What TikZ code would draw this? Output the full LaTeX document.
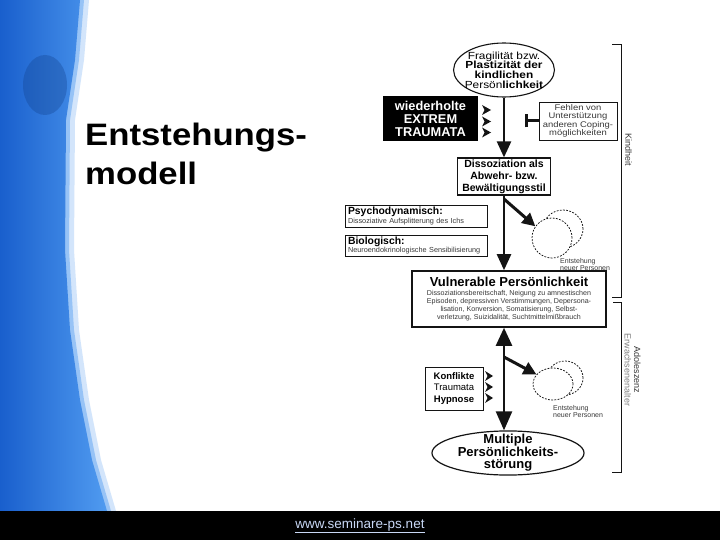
\documentclass[tikz,border=0pt]{standalone}
\usepackage{fontspec}
\setmainfont{Liberation Sans}
\newfontfamily\wide[FakeStretch=1.15]{Liberation Sans}
\newfontfamily\titlefont[FakeStretch=1.12]{Liberation Sans}
\usetikzlibrary{shapes.geometric,arrows.meta}
\definecolor{ink}{gray}{0.08}
\definecolor{soft}{gray}{0.22}
\definecolor{linkblue}{RGB}{200,215,245}
\definecolor{stripA}{RGB}{25,95,205}
\definecolor{stripB}{RGB}{80,155,240}
\newcommand\fs[2]{\fontsize{#1}{#2}\selectfont}
\tikzset{
  bigarrow/.style={draw=ink, line width=2.4pt, -{Triangle[length=16pt,width=14pt]}},
  dblarrow/.style={draw=ink, line width=2.4pt, {Triangle[length=18pt,width=16pt]}-{Triangle[length=19pt,width=16pt]}},
  diagarrow/.style={draw=ink, line width=3pt, -{Triangle[length=13pt,width=13pt]}},
  barline/.style={draw=ink, line width=3pt, -{Bar[width=13pt]}},
  plainbox/.style={draw=ink, rectangle, inner sep=0pt, align=center},
  sidebox/.style={draw=ink, line width=0.9pt, rectangle, inner xsep=3pt, inner ysep=0pt,
                  minimum width=142pt, text width=136pt, align=left, font=\fs{7.3}{8.5}, text=soft},
  dashell/.style={ellipse, draw=ink, dash pattern=on 1.8pt off 1.4pt, line width=0.75pt, inner sep=0pt},
  smalltxt/.style={anchor=north west, align=left, inner sep=0pt, font=\fs{7}{7.5}, text=soft},
  bracket/.style={draw=ink, line width=1pt},
  wedge/.style={fill=ink}
}
\begin{document}
\begin{tikzpicture}[x=1pt,y=-1pt]
\useasboundingbox (0,0) rectangle (720,540);
\fill[white] (0,0) rectangle (720,540);

% blue strip on the left
\fill[stripB, opacity=0.25, xshift=9pt] (0,0) -- (80,0) -- (75,60) -- (66,120) -- (65,250) -- (70,330) -- (80,400) -- (92,460) -- (107,511) -- (0,511) -- cycle;
\fill[stripB, opacity=0.45, xshift=4pt] (0,0) -- (80,0) -- (75,60) -- (66,120) -- (65,250) -- (70,330) -- (80,400) -- (92,460) -- (107,511) -- (0,511) -- cycle;
\path[left color=stripA, right color=stripB] (0,0) -- (80,0) -- (75,60) -- (66,120) -- (65,250) -- (70,330) -- (80,400) -- (92,460) -- (107,511) -- (0,511) -- cycle;
\fill[stripA!70!black, opacity=0.35] (45,85) ellipse (22pt and 30pt);

% footer
\fill[black] (0,511) rectangle (720,540);
\node[text=linkblue, font=\fs{13.5}{14}, inner sep=0pt] (url) at (360,526) {\underline{www.seminare-ps.net}};

% title
\node[anchor=base west, inner sep=0pt, font=\titlefont\bfseries\fs{31}{39}] (t1) at (85,146) {Entstehungs-};
\node[anchor=base west, inner sep=0pt, font=\titlefont\bfseries\fs{31}{39}] (t2) at (85,185) {modell};

% top ellipse
\node[ellipse, draw=ink, line width=1.1pt, minimum width=100pt, minimum height=54pt,
      inner xsep=-3.5pt, inner ysep=0pt, align=center, font=\wide\fs{10.3}{9.7}] (frag) at (504,70)
  {Fragilität bzw.\\\textbf{Plastizität der}\\\textbf{kindlichen}\\Persön\textbf{lichkeit}};

% black box
\node[fill=black, rectangle, inner sep=0pt, minimum width=95pt, minimum height=45pt, align=center,
      text=white, font=\bfseries\fs{12.8}{13}] (trauma) at (430.5,118.5) {wiederholte\\EXTREM\\TRAUMATA};
\foreach \yy in {110,121.5,132.5}
  \fill[wedge] (482,\yy-5) -- (491,\yy) -- (482,\yy+5) -- (484.5,\yy) -- cycle;

% Fehlen box
\node[plainbox, line width=0.7pt, minimum width=78pt, minimum height=38pt, font=\wide\fs{8.2}{8.4}, text=soft] (fehlen) at (578,121)
  {Fehlen von\\Unterstützung\\anderen Coping-\\möglichkeiten};
\coordinate (tbar) at (525,121);
\draw[barline] (fehlen.west) -- (tbar);

% Dissoziation box
\node[plainbox, line width=1.2pt, minimum width=93pt, minimum height=37pt, font=\bfseries\fs{10.5}{12}] (diss) at (504,176.5)
  {Dissoziation als\\Abwehr- bzw.\\Bewältigungsstil};
\draw[bigarrow] (frag.south) -- (diss.north);

% side boxes
\node[sidebox, minimum height=22pt] (psy) at (416,216)
  {{\color{black}\bfseries\fs{10.4}{9}Psychodynamisch:}\\Dissoziative Aufsplitterung des Ichs};
\node[sidebox, minimum height=21pt] (bio) at (416,245.5)
  {{\color{black}\bfseries\fs{10.4}{9}Biologisch:}\\Neuroendokrinologische Sensibilisierung};

% Vulnerable box
\node[plainbox, line width=1.6pt, minimum width=194pt, minimum height=56pt, font=\fs{7.1}{7.8}, text=soft] (vul) at (509,299)
  {{\color{black}\bfseries\fs{13}{13}Vulnerable Persönlichkeit}\\[1pt]
   Dissoziationsbereitschaft, Neigung zu amnestischen\\
   Episoden, depressiven Verstimmungen, Depersona-\\
   lisation, Konversion, Somatisierung, Selbst-\\
   verletzung, Suizidalität, Suchtmittelmißbrauch};
\draw[bigarrow] (diss.south) -- (diss.south |- vul.north);

% first split into persons
\node[dashell, minimum width=40pt, minimum height=38pt] (e1) at (563,229) {};
\node[dashell, fill=white, minimum width=40pt, minimum height=40pt] (e2) at (552,238) {};
\coordinate (s1) at (504,199);
\draw[diagarrow] (s1) -- (e2.145);
\node[smalltxt] (ent1) at (560,258) {Entstehung\\neuer Personen};

% Multiple ellipse
\node[ellipse, draw=ink, line width=1.2pt, minimum width=152pt, minimum height=44pt,
      inner xsep=0pt, inner ysep=-3pt, align=center, font=\bfseries\fs{13}{12.5}] (mult) at (508,453)
  {Multiple\\Persönlichkeits-\\störung};
\draw[dblarrow] (diss.south |- vul.south) -- (diss.south |- mult.north);

% second split into persons
\node[dashell, minimum width=36pt, minimum height=34pt] (e3) at (565,378) {};
\node[dashell, fill=white, minimum width=40pt, minimum height=32pt] (e4) at (553,384) {};
\coordinate (s2) at (504,357);
\draw[diagarrow] (s2) -- (e4.150);
\node[smalltxt] (ent2) at (553,405) {Entstehung\\neuer Personen};

% Konflikte box
\node[plainbox, line width=0.9pt, minimum width=58pt, minimum height=43pt, font=\fs{9.5}{11.5}] (konf) at (454,388.5)
  {\textbf{Konflikte}\\Traumata\\\textbf{Hypnose}};
\foreach \yy in {376,387,398}
  \fill[wedge] (485,\yy-5) -- (493,\yy) -- (485,\yy+5) -- (487.5,\yy) -- cycle;

% brackets
\draw[bracket] (612,45) -- (621,45) -- (621,297) -- (612,297);
\draw[bracket] (613,302) -- (621,302) -- (621,472) -- (612,472);
\node[rotate=-90, font=\fs{9}{9.5}, text=soft, inner sep=0pt] (kind) at (628.5,150) {Kindheit};
\node[rotate=-90, align=center, font=\fs{9}{9.5}, text=soft, inner sep=0pt] (adol) at (632.5,370)
  {Adoleszenz\\{\color{gray}Erwachsenenalter}};
\end{tikzpicture}
\end{document}
